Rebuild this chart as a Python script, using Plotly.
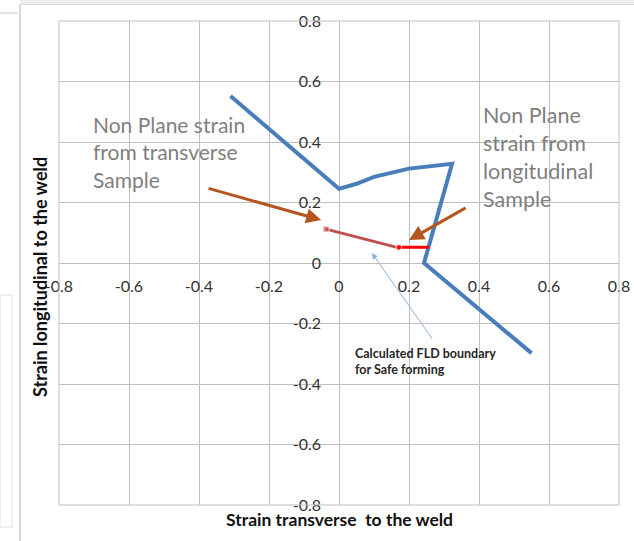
import plotly.graph_objects as go

# Forming limit boundary (blue) in strain space
fld_x = [-0.31, 0.0, 0.05, 0.10, 0.20, 0.323, 0.243, 0.55]
fld_y = [0.552, 0.245, 0.262, 0.285, 0.312, 0.328, 0.0, -0.298]

# Measured non plane strain paths
transverse_x = [-0.037, 0.171]
transverse_y = [0.112, 0.050]
longitudinal_x = [0.171, 0.257]
longitudinal_y = [0.052, 0.052]

tick_vals = [-0.8, -0.6, -0.4, -0.2, 0, 0.2, 0.4, 0.6, 0.8]
tick_text = ["-0.8", "-0.6", "-0.4", "-0.2", "0", "0.2", "0.4", "0.6", "0.8"]

FONT = "Lato"
GRID = "#BFBFBF"

fig = go.Figure()

fig.add_trace(go.Scatter(
    x=fld_x, y=fld_y, mode="lines",
    line=dict(color="#4A7EBB", width=4), hoverinfo="skip"))

fig.add_trace(go.Scatter(
    x=transverse_x, y=transverse_y, mode="lines+markers",
    line=dict(color="#C0504D", width=3),
    marker=dict(symbol=["square", "circle"], size=[6, 5], color="#C0504D"),
    hoverinfo="skip"))

fig.add_trace(go.Scatter(
    x=longitudinal_x, y=longitudinal_y, mode="lines+markers",
    line=dict(color="#FF0000", width=3),
    marker=dict(symbol="circle", size=[6, 0], color="#FF0000"),
    hoverinfo="skip"))

axis_common = dict(
    range=[-0.8, 0.8], tickvals=tick_vals, ticktext=tick_text,
    showgrid=True, gridcolor=GRID, gridwidth=1,
    zeroline=False, showline=False, ticks="", automargin=False,
    tickfont=dict(family=FONT, size=16, color="#333333"),
    fixedrange=True,
)

fig.update_layout(
    width=634, height=541,
    margin=dict(l=59, r=15, t=21, b=36),
    paper_bgcolor="white", plot_bgcolor="white",
    showlegend=False,
    xaxis=dict(**axis_common, anchor="free", position=0.5,
               ticklabelstandoff=12),
    yaxis=dict(**axis_common, anchor="free", position=0.5,
               ticklabelstandoff=18),
    font=dict(family=FONT),
)

# plot frame
fig.add_shape(type="rect", xref="x domain", yref="y domain",
              x0=0, x1=1, y0=0, y1=1, line=dict(color=GRID, width=1))

# chart area frame and surrounding page edges
fig.add_shape(type="line", xref="paper", yref="paper",
              x0=-39/560, x1=-39/560, y0=-36/484, y1=1 + 17/484,
              line=dict(color="#D9D9D9", width=2))
fig.add_shape(type="line", xref="paper", yref="paper",
              x0=-39/560, x1=1 + 15/560, y0=1 + 17/484, y1=1 + 17/484,
              line=dict(color="#D9D9D9", width=2))
fig.add_shape(type="rect", xref="paper", yref="paper",
              x0=-39/560, x1=1 + 15/560, y0=1 + 17/484, y1=1 + 21/484,
              line=dict(width=0), fillcolor="#EEEEEE")
fig.add_shape(type="line", xref="paper", yref="paper",
              x0=-59/560, x1=-41/560, y0=1 + 8/484, y1=1 + 8/484,
              line=dict(color="#C8C8C8", width=1))
fig.add_shape(type="rect", xref="paper", yref="paper",
              x0=-59/560, x1=-47/560, y0=(505 - 527)/484, y1=(505 - 295)/484,
              line=dict(color="#E0E0E0", width=1))

annotations = [
    # axis titles
    dict(text="<b>Strain longitudinal to the weld</b>", xref="paper", yref="paper",
         x=-19/560, y=(505 - 277)/484, textangle=-90, showarrow=False,
         xanchor="center", yanchor="middle",
         font=dict(family=FONT, size=18, color="#111111")),
    dict(text="<b>Strain transverse  to the weld</b>", xref="paper", yref="paper",
         x=(339 - 59)/560, y=-(519 - 505)/484, showarrow=False,
         xanchor="center", yanchor="middle",
         font=dict(family=FONT, size=17.5, color="#111111")),
    # callout texts
    dict(text="Non Plane strain<br>from transverse<br>Sample", xref="x", yref="y",
         x=-0.7086, y=0.505, xanchor="left", yanchor="top", align="left",
         showarrow=False, font=dict(family=FONT, size=21, color="#7F7F7F")),
    dict(text="Non Plane<br>strain from<br>longitudinal<br>Sample", xref="x", yref="y",
         x=0.407, y=0.54, xanchor="left", yanchor="top", align="left",
         showarrow=False, font=dict(family=FONT, size=21.5, color="#7F7F7F")),
    dict(text="<b>Calculated FLD boundary<br>for Safe forming</b>", xref="x", yref="y",
         x=0.04, y=-0.268, xanchor="left", yanchor="top", align="left",
         showarrow=False, font=dict(family=FONT, size=12.5, color="#262626")),
    # arrows
    dict(x=-0.051, y=0.142, ax=-0.377, ay=0.248, xref="x", yref="y",
         axref="x", ayref="y", text="", showarrow=True, arrowhead=2,
         arrowsize=1, arrowwidth=3, arrowcolor="#B4561E"),
    dict(x=0.2, y=0.076, ax=0.366, ay=0.185, xref="x", yref="y",
         axref="x", ayref="y", text="", showarrow=True, arrowhead=2,
         arrowsize=1, arrowwidth=3, arrowcolor="#B4561E"),
    dict(x=0.094, y=0.033, ax=0.269, ay=-0.255, xref="x", yref="y",
         axref="x", ayref="y", text="", showarrow=True, arrowhead=2,
         arrowsize=1.2, arrowwidth=1, arrowcolor="#8DB3E2"),
]
fig.update_layout(annotations=annotations)

fig.write_html("out.html")
